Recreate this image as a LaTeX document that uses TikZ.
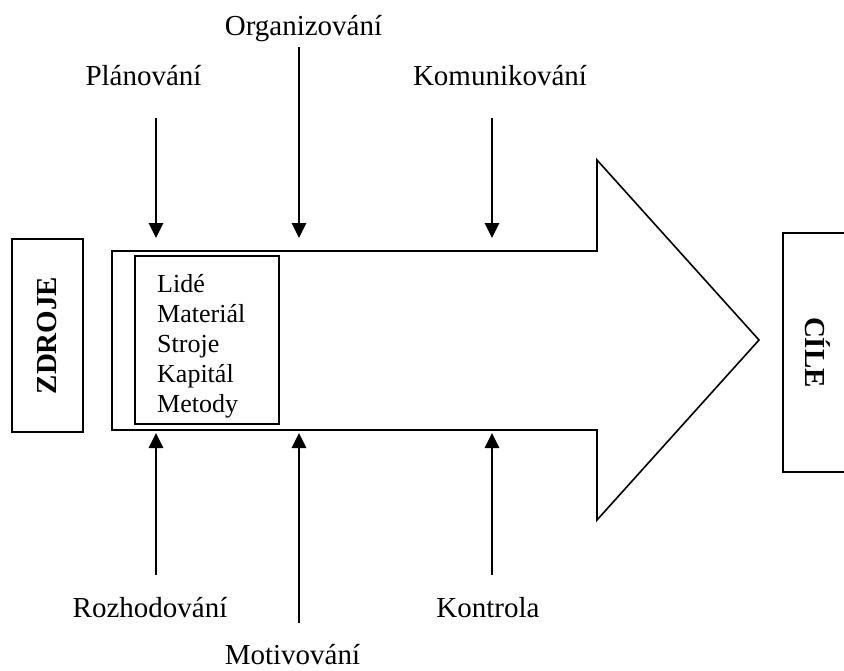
\documentclass[tikz,border=0pt]{standalone}
\usepackage{fontspec}
\setmainfont{Liberation Serif}
\usetikzlibrary{arrows.meta}

\begin{document}
\begin{tikzpicture}[x=1pt,y=-1pt,
  lbl/.style={font=\fontsize{29}{33}\selectfont, anchor=base, inner sep=0pt},
  res/.style={font=\fontsize{26}{30}\selectfont, anchor=base west, inner sep=0pt},
  side/.style={draw, line width=1.6pt, font=\fontsize{29}{33}\selectfont\bfseries, inner sep=0pt},
  frame/.style={draw, line width=1.6pt, line join=miter},
  force/.style={line width=2.8pt, -{Triangle[length=15pt,width=14pt]}},
]
\useasboundingbox (0,0) rectangle (844,670);
\clip (0,0) rectangle (844,670);

% main process arrow
\draw[frame] (112,251) coordinate (bodyTL) -- (597,251) -- (597,160) -- (759,340) coordinate (tip)
  -- (597,520) -- (597,430) -- (112,430) coordinate (bodyBL) -- cycle;

% resources inside the arrow
\node[draw, line width=1.6pt, minimum width=144pt, minimum height=168pt, inner sep=0pt] (resbox) at (207,340) {};
\node[res] (r1) at (157,292) {Lidé};
\node[res] (r2) at (157,322) {Materiál};
\node[res] (r3) at (157,352) {Stroje};
\node[res] (r4) at (157,382) {Kapitál};
\node[res] (r5) at (157,412) {Metody};

% sources and goals
\node[side, rotate=90, minimum width=193pt, minimum height=71pt] (zdroje) at (47.5,335.5) {ZDROJE};
\node[side, rotate=-90, minimum width=239pt, minimum height=70pt] (cile) at (818,352.5) {CÍLE};

% management functions above
\node[lbl] (plan) at (143.5,85) {Plánování};
\node[lbl] (org) at (303.5,35) {Organizování};
\node[lbl] (kom) at (500,85) {Komunikování};

% management functions below
\node[lbl] (roz) at (150,617) {Rozhodování};
\node[lbl] (mot) at (292.5,664) {Motivování};
\node[lbl] (kon) at (488,617) {Kontrola};

% arrow ends
\coordinate (planS) at (156,118);
\coordinate (planE) at (156,238);
\coordinate (orgS) at (299,47);
\coordinate (orgE) at (299,238);
\coordinate (komS) at (492,118);
\coordinate (komE) at (492,238);
\coordinate (rozS) at (156,575);
\coordinate (rozE) at (156,433);
\coordinate (motS) at (299,623);
\coordinate (motE) at (299,433);
\coordinate (konS) at (492,575);
\coordinate (konE) at (492,433);

\draw[force] (planS) -- (planE);
\draw[force] (orgS) -- (orgE);
\draw[force] (komS) -- (komE);
\draw[force] (rozS) -- (rozE);
\draw[force] (motS) -- (motE);
\draw[force] (konS) -- (konE);
\end{tikzpicture}
\end{document}
